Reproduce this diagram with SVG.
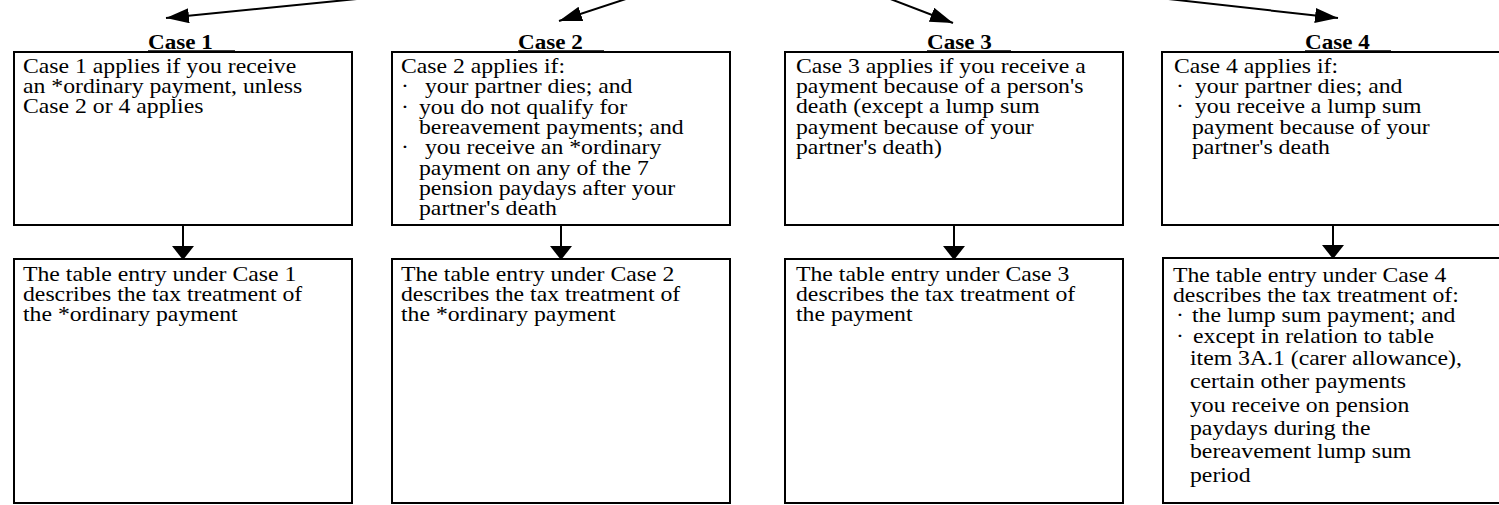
<svg xmlns="http://www.w3.org/2000/svg" width="1499" height="505" viewBox="0 0 1499 505">
<style>
.box{fill:#fff;stroke:#000;stroke-width:2}
.t{font-family:"Liberation Serif","Times New Roman",serif;font-size:21px;fill:#000}
.h{font-family:"Liberation Serif","Times New Roman",serif;font-size:21px;font-weight:bold;fill:#000}
.ul{stroke:#000;stroke-width:1.5}
.c{stroke:#000;stroke-width:2;fill:none}
</style>
<defs>
<marker id="ah" markerUnits="userSpaceOnUse" markerWidth="26" markerHeight="18" refX="23" refY="7.5" orient="auto">
<path d="M0,0 L23,7.5 L0,15 Z" fill="#000"/>
</marker>
<marker id="av" markerUnits="userSpaceOnUse" markerWidth="26" markerHeight="18" refX="11" refY="14" orient="0">
<path d="M0,0 L22,0 L11,14 Z" fill="#000"/>
</marker>
</defs>
<g id="connectors">
<line class="c" x1="400" y1="-5.3" x2="166" y2="18" marker-end="url(#ah)"/>
<line class="c" x1="638" y1="-5" x2="559" y2="21" marker-end="url(#ah)"/>
<line class="c" x1="880" y1="-5" x2="953" y2="23" marker-end="url(#ah)"/>
<line class="c" x1="1130" y1="-5.3" x2="1338" y2="18" marker-end="url(#ah)"/>
<line class="c" x1="183" y1="225" x2="183" y2="260" marker-end="url(#av)"/>
<line class="c" x1="561" y1="225" x2="561" y2="260" marker-end="url(#av)"/>
<line class="c" x1="954" y1="225" x2="954" y2="260" marker-end="url(#av)"/>
<line class="c" x1="1333" y1="225" x2="1333" y2="259" marker-end="url(#av)"/>
</g>
<g id="case1">
<rect class="box" x="14" y="52" width="338" height="173"/>
<text class="h" transform="translate(148,49) scale(1.1,1)">Case 1</text>
<line class="ul" x1="148" y1="51" x2="235" y2="51"/>
<text class="t" transform="translate(23,73) scale(1.13,1)">Case 1 applies if you receive</text>
<text class="t" transform="translate(23,93) scale(1.13,1)">an *ordinary payment, unless</text>
<text class="t" transform="translate(23,113) scale(1.13,1)">Case 2 or 4 applies</text>
</g>
<g id="result1">
<rect class="box" x="14" y="259" width="338" height="244"/>
<text class="t" transform="translate(23,281) scale(1.13,1)">The table entry under Case 1</text>
<text class="t" transform="translate(23,301) scale(1.13,1)">describes the tax treatment of</text>
<text class="t" transform="translate(23,321) scale(1.13,1)">the *ordinary payment</text>
</g>
<g id="case2">
<rect class="box" x="392" y="52" width="338" height="173"/>
<text class="h" transform="translate(518,49) scale(1.1,1)">Case 2</text>
<line class="ul" x1="518" y1="51" x2="604" y2="51"/>
<text class="t" transform="translate(401,73) scale(1.13,1)">Case 2 applies if:</text>
<text class="t" transform="translate(401,93) scale(1.13,1)">·</text>
<text class="t" transform="translate(425,93) scale(1.13,1)">your partner dies; and</text>
<text class="t" transform="translate(401,113.5) scale(1.13,1)">·</text>
<text class="t" transform="translate(419,113.5) scale(1.13,1)">you do not qualify for</text>
<text class="t" transform="translate(419,134) scale(1.13,1)">bereavement payments; and</text>
<text class="t" transform="translate(401,154) scale(1.13,1)">·</text>
<text class="t" transform="translate(425,154) scale(1.13,1)">you receive an *ordinary</text>
<text class="t" transform="translate(419,174.5) scale(1.13,1)">payment on any of the 7</text>
<text class="t" transform="translate(419,195) scale(1.13,1)">pension paydays after your</text>
<text class="t" transform="translate(419,215) scale(1.13,1)">partner's death</text>
</g>
<g id="result2">
<rect class="box" x="392" y="259" width="338" height="244"/>
<text class="t" transform="translate(401,281) scale(1.13,1)">The table entry under Case 2</text>
<text class="t" transform="translate(401,301) scale(1.13,1)">describes the tax treatment of</text>
<text class="t" transform="translate(401,321) scale(1.13,1)">the *ordinary payment</text>
</g>
<g id="case3">
<rect class="box" x="785" y="52" width="338" height="173"/>
<text class="h" transform="translate(927,49) scale(1.1,1)">Case 3</text>
<line class="ul" x1="927" y1="51" x2="1011" y2="51"/>
<text class="t" transform="translate(796,73) scale(1.13,1)">Case 3 applies if you receive a</text>
<text class="t" transform="translate(796,93) scale(1.13,1)">payment because of a person's</text>
<text class="t" transform="translate(796,113) scale(1.13,1)">death (except a lump sum</text>
<text class="t" transform="translate(796,134) scale(1.13,1)">payment because of your</text>
<text class="t" transform="translate(796,154) scale(1.13,1)">partner's death)</text>
</g>
<g id="result3">
<rect class="box" x="785" y="259" width="338" height="244"/>
<text class="t" transform="translate(796,281) scale(1.13,1)">The table entry under Case 3</text>
<text class="t" transform="translate(796,301) scale(1.13,1)">describes the tax treatment of</text>
<text class="t" transform="translate(796,321) scale(1.13,1)">the payment</text>
</g>
<g id="case4">
<rect class="box" x="1162" y="52" width="348" height="173"/>
<text class="h" transform="translate(1305,49) scale(1.1,1)">Case 4</text>
<line class="ul" x1="1305" y1="51" x2="1391" y2="51"/>
<text class="t" transform="translate(1174,73) scale(1.13,1)">Case 4 applies if:</text>
<text class="t" transform="translate(1176,93) scale(1.13,1)">·</text>
<text class="t" transform="translate(1195,93) scale(1.13,1)">your partner dies; and</text>
<text class="t" transform="translate(1176,113) scale(1.13,1)">·</text>
<text class="t" transform="translate(1195,113) scale(1.13,1)">you receive a lump sum</text>
<text class="t" transform="translate(1192,134) scale(1.13,1)">payment because of your</text>
<text class="t" transform="translate(1192,154) scale(1.13,1)">partner's death</text>
</g>
<g id="result4">
<rect class="box" x="1163" y="258" width="348" height="245"/>
<text class="t" transform="translate(1173,281.5) scale(1.13,1)">The table entry under Case 4</text>
<text class="t" transform="translate(1173,301.5) scale(1.13,1)">describes the tax treatment of:</text>
<text class="t" transform="translate(1176,321.5) scale(1.13,1)">·</text>
<text class="t" transform="translate(1192,321.5) scale(1.13,1)">the lump sum payment; and</text>
<text class="t" transform="translate(1176,342.5) scale(1.13,1)">·</text>
<text class="t" transform="translate(1193,342.5) scale(1.13,1)">except in relation to table</text>
<text class="t" transform="translate(1190,365) scale(1.13,1)">item 3A.1 (carer allowance),</text>
<text class="t" transform="translate(1190,388) scale(1.13,1)">certain other payments</text>
<text class="t" transform="translate(1190,411.5) scale(1.13,1)">you receive on pension</text>
<text class="t" transform="translate(1190,435) scale(1.13,1)">paydays during the</text>
<text class="t" transform="translate(1190,458) scale(1.13,1)">bereavement lump sum</text>
<text class="t" transform="translate(1190,481.5) scale(1.13,1)">period</text>
</g>
</svg>
